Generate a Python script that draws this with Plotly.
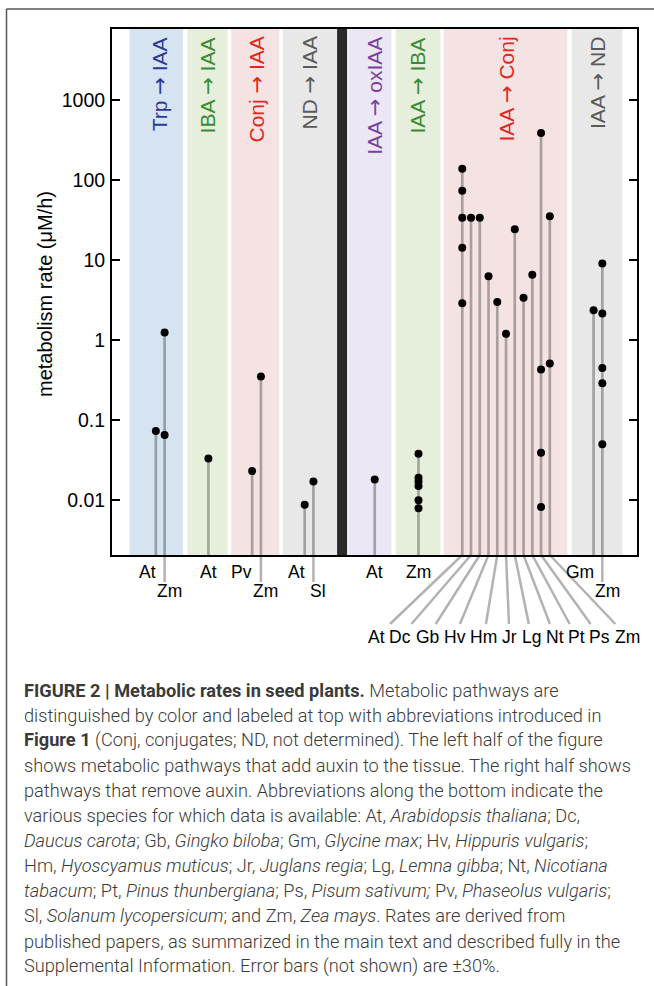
import plotly.graph_objects as go

# ---------------- data ----------------
pathways = ["Trp → IAA", "IBA → IAA", "Conj → IAA", "ND → IAA",
            "IAA → oxIAA", "IAA → IBA", "IAA → Conj", "IAA → ND"]
pathway_text_colors = ["#2b3a97", "#3b8b33", "#e0281e", "#5a5a5a",
                       "#7b3f9f", "#3b8b33", "#e0281e", "#5a5a5a"]
band_fill = ["#d6e3f1", "#e6eedc", "#f5e3e3", "#e8e8e8",
             "#ece7f4", "#e6eedc", "#f5e3e3", "#e8e8e8"]

stem_pathway = [0, 0, 1, 2, 2, 3, 3, 4, 5,
                6, 6, 6, 6, 6, 6, 6, 6, 6, 6, 6, 7, 7]
stem_species = ["At", "Zm", "At", "Pv", "Zm", "At", "Sl", "At", "Zm",
                "At", "Dc", "Gb", "Hv", "Hm", "Jr", "Lg", "Nt", "Pt", "Ps", "Zm",
                "Gm", "Zm"]
stem_slot = [5, 6, 11, 16, 17, 22, 23, 30, 35,
             40, 41, 42, 43, 44, 45, 46, 47, 48, 49, 50, 55, 56]
stem_rates = [
    [0.073], [1.25, 0.065],
    [0.033],
    [0.023], [0.35],
    [0.0087], [0.017],
    [0.018],
    [0.038, 0.019, 0.017, 0.015, 0.0099, 0.0079],
    [140, 74, 34, 14.3, 2.9], [34], [34], [6.3], [3.0], [1.2],
    [24.4], [3.4], [6.6], [390, 0.43, 0.039, 0.0082], [35.5, 0.51],
    [2.37], [9.1, 2.16, 0.45, 0.29, 0.05],
]

y_tick_vals = [0.01, 0.1, 1, 10, 100, 1000]
y_tick_text = ["0.01", "0.1", "1", "10", "100", "1000"]
y_title = "metabolism rate (μM/h)"

caption_lines = [
    "<b>FIGURE 2 | Metabolic rates in seed plants.</b> Metabolic pathways are",
    "distinguished by color and labeled at top with abbreviations introduced in",
    "<b>Figure 1</b> (Conj, conjugates; ND, not determined). The left half of the figure",
    "shows metabolic pathways that add auxin to the tissue. The right half shows",
    "pathways that remove auxin. Abbreviations along the bottom indicate the",
    "various species for which data is available: At, <i>Arabidopsis thaliana</i>; Dc,",
    "<i>Daucus carota</i>; Gb, <i>Gingko biloba</i>; Gm, <i>Glycine max</i>; Hv, <i>Hippuris vulgaris</i>;",
    "Hm, <i>Hyoscyamus muticus</i>; Jr, <i>Juglans regia</i>; Lg, <i>Lemna gibba</i>; Nt, <i>Nicotiana</i>",
    "<i>tabacum</i>; Pt, <i>Pinus thunbergiana</i>; Ps, <i>Pisum sativum;</i> Pv, <i>Phaseolus vulgaris</i>;",
    "Sl, <i>Solanum lycopersicum</i>; and Zm, <i>Zea mays</i>. Rates are derived from",
    "published papers, as summarized in the main text and described fully in the",
    "Supplemental Information. Error bars (not shown) are ±30%.",
]

# ---------------- layout constants ----------------
W, H = 654, 986
L, R, T, B = 112, 637, 29, 555
Y_LOG_RANGE = [-2.688, 3.894]
X_RANGE = [-0.01, 59.96]
band_edges = [(2.0, 8.1), (8.6, 13.2), (13.6, 19.1), (19.5, 25.7),
              (27.0, 31.9), (32.4, 37.5), (37.9, 52.0), (52.5, 58.3)]
divider_edges = (25.7, 26.85)
fan_label_slots = [30.19, 32.91, 36.02, 39.12, 42.46, 45.40, 47.90, 50.58, 53.07, 55.73, 58.89]
FONT = "Liberation Sans, Arial, sans-serif"
STEM_COLOR = "rgba(0,0,0,0.30)"
ARROW = '<span style="font-family:DejaVu Sans">→</span>'


def py(p):  # pixel y -> paper y
    return (B - p) / (B - T)


def px(p):  # pixel x -> paper x
    return (p - L) / (R - L)


fig = go.Figure()

# stems
sx, sy = [], []
ybot = 10 ** Y_LOG_RANGE[0]
for s, rates in zip(stem_slot, stem_rates):
    sx += [s, s, None]
    sy += [ybot, max(rates), None]
fig.add_trace(go.Scatter(x=sx, y=sy, mode="lines",
                         line=dict(color=STEM_COLOR, width=2.7),
                         hoverinfo="skip", showlegend=False))

# points
mx, my = [], []
for s, rates in zip(stem_slot, stem_rates):
    for r in rates:
        mx.append(s)
        my.append(r)
fig.add_trace(go.Scatter(x=mx, y=my, mode="markers",
                         marker=dict(color="black", size=8),
                         showlegend=False))

shapes = []
annotations = []

# background bands
for (x0, x1), fc in zip(band_edges, band_fill):
    shapes.append(dict(type="rect", xref="x", yref="paper", x0=x0, x1=x1, y0=0, y1=1,
                       fillcolor=fc, line=dict(width=0), layer="below"))
shapes.append(dict(type="rect", xref="x", yref="paper", x0=divider_edges[0], x1=divider_edges[1],
                   y0=0, y1=1, fillcolor="#2a2a2a", line=dict(width=0), layer="below"))

# pathway labels and species labels
for gi, name in enumerate(pathways):
    idx = [i for i, p in enumerate(stem_pathway) if p == gi]
    slots = [stem_slot[i] for i in idx]
    cx = sum(slots) / len(slots)
    annotations.append(dict(xref="x", yref="paper", x=cx, y=py(35),
                            text=name.replace("→", ARROW),
                            textangle=-90, xanchor="center", yanchor="top", showarrow=False,
                            font=dict(family=FONT, size=21, color=pathway_text_colors[gi])))
    if len(idx) == 1:
        i = idx[0]
        annotations.append(dict(xref="x", yref="paper", x=stem_slot[i], y=py(572),
                                text=stem_species[i], showarrow=False, xanchor="center",
                                yanchor="middle", font=dict(family=FONT, size=17.5, color="black")))
    elif len(idx) == 2:
        i0, i1 = idx
        annotations.append(dict(xref="x", yref="paper", x=stem_slot[i0], y=py(572), xshift=2,
                                text=stem_species[i0], showarrow=False, xanchor="right",
                                yanchor="middle", font=dict(family=FONT, size=17.5, color="black")))
        annotations.append(dict(xref="x", yref="paper", x=stem_slot[i1], y=py(591), xshift=5,
                                text=stem_species[i1], showarrow=False, xanchor="center",
                                yanchor="middle", font=dict(family=FONT, size=17.5, color="black")))
        shapes.append(dict(type="line", xref="x", yref="paper", x0=stem_slot[i1], x1=stem_slot[i1],
                           y0=py(B), y1=py(582), line=dict(color=STEM_COLOR, width=2.5)))
    else:
        for k, i in enumerate(idx):
            lx = fan_label_slots[k]
            annotations.append(dict(xref="x", yref="paper", x=lx, y=py(637),
                                    text=stem_species[i], showarrow=False, xanchor="center",
                                    yanchor="middle", font=dict(family=FONT, size=17.5, color="black")))
            frac = (624 - B) / (637 - B)
            ex = stem_slot[i] + (lx - stem_slot[i]) * frac
            shapes.append(dict(type="line", xref="x", yref="paper", x0=stem_slot[i], x1=ex,
                               y0=py(B), y1=py(624), line=dict(color=STEM_COLOR, width=2.5)))

# y-axis title
annotations.append(dict(xref="paper", yref="paper", x=px(45), y=py(294), text=y_title,
                        textangle=-90, showarrow=False, xanchor="center", yanchor="middle",
                        font=dict(family=FONT, size=20, color="black")))

# caption
for k, line in enumerate(caption_lines):
    annotations.append(dict(xref="paper", yref="paper", x=px(22), y=py(690 + 25.1 * k),
                            text=line, showarrow=False, xanchor="left", yanchor="middle",
                            align="left",
                            font=dict(family="Roboto, Liberation Sans, sans-serif", size=18.2,
                                      weight=300, color="#3a3a3a")))

# outer frame (left and top)
shapes.append(dict(type="line", xref="paper", yref="paper", x0=px(6.5), x1=px(6.5),
                   y0=py(9), y1=py(H + 5), line=dict(color="#555555", width=1.5)))
shapes.append(dict(type="line", xref="paper", yref="paper", x0=px(6.5), x1=px(W + 5),
                   y0=py(9), y1=py(9), line=dict(color="#555555", width=1.5)))

fig.update_layout(
    width=W, height=H,
    margin=dict(l=L, r=W - R, t=T, b=H - B, pad=0),
    paper_bgcolor="white", plot_bgcolor="white",
    shapes=shapes, annotations=annotations,
    showlegend=False,
    xaxis=dict(range=X_RANGE, showgrid=False, zeroline=False, showticklabels=False,
               ticks="", showline=True, linecolor="black", linewidth=2, mirror=True),
    yaxis=dict(type="log", range=Y_LOG_RANGE, showgrid=False, zeroline=False,
               tickvals=y_tick_vals, ticktext=y_tick_text, ticks="inside", ticklen=8,
               tickwidth=1.5, tickcolor="black", showline=True, linecolor="black",
               linewidth=2, mirror="ticks", ticklabelstandoff=1,
               tickfont=dict(family=FONT, size=19.5, color="black")),
)

fig.write_html("out.html", config={"displayModeBar": False},
               post_script="document.body.style.margin='0px';")
